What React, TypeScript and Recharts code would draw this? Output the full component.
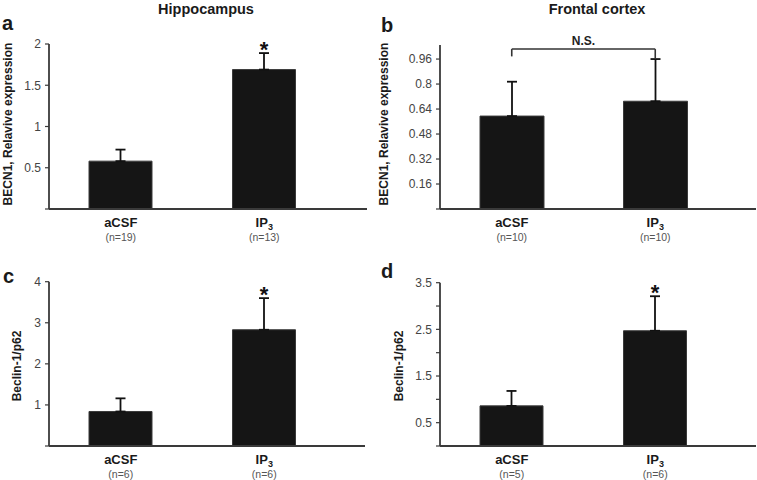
import React from 'react';
import { BarChart, Bar, XAxis, YAxis, ErrorBar, LabelList, ReferenceLine } from 'recharts';

const FONT = '"Liberation Sans", Arial, Helvetica, sans-serif';

// categories
const categories = ['aCSF', 'IP3'];

// a: Hippocampus BECN1 mRNA
const hippoMrna = [0.58, 1.69];
const hippoMrnaErr = [0.14, 0.2];
const hippoMrnaN = ['n=19', 'n=13'];
const hippoMrnaStar = ['', '*'];
const ticksA = [0, 0.5, 1, 1.5, 2];
const labelsA = ['', '0.5', '1', '1.5', '2'];

// b: Frontal cortex BECN1 mRNA
const cortexMrna = [0.595, 0.69];
const cortexMrnaErr = [0.22, 0.27];
const cortexMrnaN = ['n=10', 'n=10'];
const cortexMrnaStar = ['', ''];
const ticksB = [0, 0.16, 0.32, 0.48, 0.64, 0.8, 0.96];
const labelsB = ['', '0.16', '0.32', '0.48', '0.64', '0.8', '0.96'];
const bracketB = { y: 1.024, leftEnd: 0.977, rightEnd: 0.96, text: 'N.S.' };

// c: Hippocampus Beclin-1/p62
const hippoRatio = [0.84, 2.83];
const hippoRatioErr = [0.32, 0.77];
const hippoRatioN = ['n=6', 'n=6'];
const hippoRatioStar = ['', '*'];
const ticksC = [0, 1, 2, 3, 4];
const labelsC = ['', '1', '2', '3', '4'];

// d: Frontal cortex Beclin-1/p62
const cortexRatio = [0.86, 2.47];
const cortexRatioErr = [0.32, 0.74];
const cortexRatioN = ['n=5', 'n=6'];
const cortexRatioStar = ['', '*'];
const ticksD = [0, 0.5, 1, 1.5, 2, 2.5, 3, 3.5];
const labelsD = ['', '0.5', '', '1.5', '', '2.5', '', '3.5'];

const buildRows = (vals: number[], errs: number[], ns: string[], stars: string[]) =>
  categories.map((c, i) => ({ name: c, value: vals[i], err: [0, errs[i]], n: ns[i], star: stars[i] }));

const XTick = (props: any) => {
  const { x, y, payload, index, ns } = props;
  const v = payload.value as string;
  return (
    <g>
      <text x={x} y={y + 17.5} textAnchor="middle" fontFamily={FONT} fontWeight="bold" fontSize={13} fill="#1a1a1a">
        {v === 'IP3' ? (
          <>
            IP<tspan fontSize={9} dy={3}>3</tspan>
          </>
        ) : (
          v
        )}
      </text>
      <text x={x} y={y + 32} textAnchor="middle" fontFamily={FONT} fontSize={10.5} fill="#555">
        ({ns[index]})
      </text>
    </g>
  );
};

type PanelProps = {
  rows: any[];
  left: number;
  top: number;
  width: number;
  height: number;
  margin: { top: number; right: number; bottom: number; left: number };
  yWidth: number;
  max: number;
  ticks: number[];
  labels: string[];
  padRight: number;
  barSize: number;
  bracket?: { y: number; leftEnd: number; rightEnd: number; text: string };
};

const Panel = ({ rows, left, top, width, height, margin, yWidth, max, ticks, labels, padRight, barSize, bracket }: PanelProps) => {
  const ns = rows.map((r) => r.n);
  const StarLabel = (p: any) => {
    const vb = p.viewBox || {};
    const x = p.x ?? vb.x;
    const y = p.y ?? vb.y;
    const w = p.width ?? vb.width;
    const h = p.height ?? vb.height;
    const idx = p.index;
    const row = rows[idx];
    if (!row || !row.star) return null;
    const pxPerUnit = h / row.value;
    const errTop = y - row.err[1] * pxPerUnit;
    return (
      <text x={x + w / 2} y={errTop + 3.5} textAnchor="middle" fontFamily={FONT} fontWeight="bold" fontSize={22} fill="#111">
        {row.star}
      </text>
    );
  };
  return (
    <div style={{ position: 'absolute', left, top, width, height }}>
      <BarChart width={width} height={height} data={rows} margin={margin} style={{ overflow: 'visible' }}>
        <XAxis
          dataKey="name"
          type="category"
          padding={{ left: 0, right: padRight }}
          height={30}
          tickSize={0}
          tickMargin={0}
          interval={0}
          axisLine={{ stroke: '#3a3a3a', strokeWidth: 1.8 }}
          tickLine={false}
          tick={<XTick ns={ns} />}
        />
        <YAxis
          type="number"
          domain={[0, max]}
          ticks={ticks}
          interval={0}
          width={yWidth}
          tickSize={4}
          tickMargin={4}
          tickFormatter={(v: number) => labels[ticks.indexOf(v)] ?? ''}
          axisLine={{ stroke: '#3a3a3a', strokeWidth: 1.8 }}
          tickLine={{ stroke: '#3a3a3a', strokeWidth: 1.2 }}
          tick={{ fontSize: 12, fill: '#444', fontFamily: FONT }}
        />
        <Bar dataKey="value" fill="#151515" stroke="#3a3a3a" strokeWidth={1} barSize={barSize} isAnimationActive={false}>
          <ErrorBar dataKey="err" width={5} strokeWidth={1.8} stroke="#111" direction="y" isAnimationActive={false} />
          <LabelList dataKey="star" content={StarLabel} />
        </Bar>
        {bracket && (
          <ReferenceLine
            segment={[
              { x: categories[0], y: bracket.y },
              { x: categories[1], y: bracket.y },
            ]}
            stroke="#333"
            strokeWidth={1.6}
            label={{ value: bracket.text, position: 'top', offset: 4, fontFamily: FONT, fontWeight: 'bold', fontSize: 12, fill: '#222' }}
          />
        )}
        {bracket && (
          <ReferenceLine
            segment={[
              { x: categories[0], y: bracket.y },
              { x: categories[0], y: bracket.leftEnd },
            ]}
            stroke="#333"
            strokeWidth={1.6}
          />
        )}
        {bracket && (
          <ReferenceLine
            segment={[
              { x: categories[1], y: bracket.y },
              { x: categories[1], y: bracket.rightEnd },
            ]}
            stroke="#333"
            strokeWidth={1.6}
          />
        )}
      </BarChart>
    </div>
  );
};

export default function App() {
  const rowsA = buildRows(hippoMrna, hippoMrnaErr, hippoMrnaN, hippoMrnaStar);
  const rowsB = buildRows(cortexMrna, cortexMrnaErr, cortexMrnaN, cortexMrnaStar);
  const rowsC = buildRows(hippoRatio, hippoRatioErr, hippoRatioN, hippoRatioStar);
  const rowsD = buildRows(cortexRatio, cortexRatioErr, cortexRatioN, cortexRatioStar);
  const txt = { fontFamily: FONT, fontWeight: 'bold' as const, fill: '#1a1a1a' };
  return (
    <div style={{ position: 'absolute', left: 0, top: 0, width: 757, height: 480, background: '#fff', overflow: 'hidden' }}>
      <Panel rows={rowsA} left={0} top={0} width={378} height={250}
        margin={{ top: 44, right: 11, bottom: 11, left: 0 }} yWidth={49}
        max={2} ticks={ticksA} labels={labelsA} padRight={31} barSize={63} />
      <Panel rows={rowsB} left={378} top={0} width={379} height={250}
        margin={{ top: 45, right: 1, bottom: 11, left: 0 }} yWidth={62}
        max={1.05} ticks={ticksB} labels={labelsB} padRight={29} barSize={64} bracket={bracketB} />
      <Panel rows={rowsC} left={0} top={240} width={378} height={240}
        margin={{ top: 41.7, right: 13, bottom: 4, left: 0 }} yWidth={49}
        max={4} ticks={ticksC} labels={labelsC} padRight={29} barSize={63} />
      <Panel rows={rowsD} left={378} top={240} width={379} height={240}
        margin={{ top: 42.7, right: 1, bottom: 4, left: 0 }} yWidth={62}
        max={3.5} ticks={ticksD} labels={labelsD} padRight={29} barSize={63} />
      <svg width={757} height={480} style={{ position: 'absolute', left: 0, top: 0, pointerEvents: 'none' }}>
        <text x={206} y={13.5} textAnchor="middle" fontSize={14.5} {...txt}>Hippocampus</text>
        <text x={597} y={13.5} textAnchor="middle" fontSize={14.5} {...txt}>Frontal cortex</text>
        <text x={2} y={30} fontSize={20} {...txt}>a</text>
        <text x={381} y={32} fontSize={20} {...txt}>b</text>
        <text x={3} y={283} fontSize={20} {...txt}>c</text>
        <text x={381} y={278} fontSize={20} {...txt}>d</text>
        <text transform="translate(11.5,124) rotate(-90)" textAnchor="middle" fontSize={12} {...txt}>BECN1, Relavive expression</text>
        <text transform="translate(388.3,124) rotate(-90)" textAnchor="middle" fontSize={12} {...txt}>BECN1, Relavive expression</text>
        <text transform="translate(20.5,366) rotate(-90)" textAnchor="middle" fontSize={12} {...txt}>Beclin-1/p62</text>
        <text transform="translate(403.3,366) rotate(-90)" textAnchor="middle" fontSize={12} {...txt}>Beclin-1/p62</text>
      </svg>
    </div>
  );
}
